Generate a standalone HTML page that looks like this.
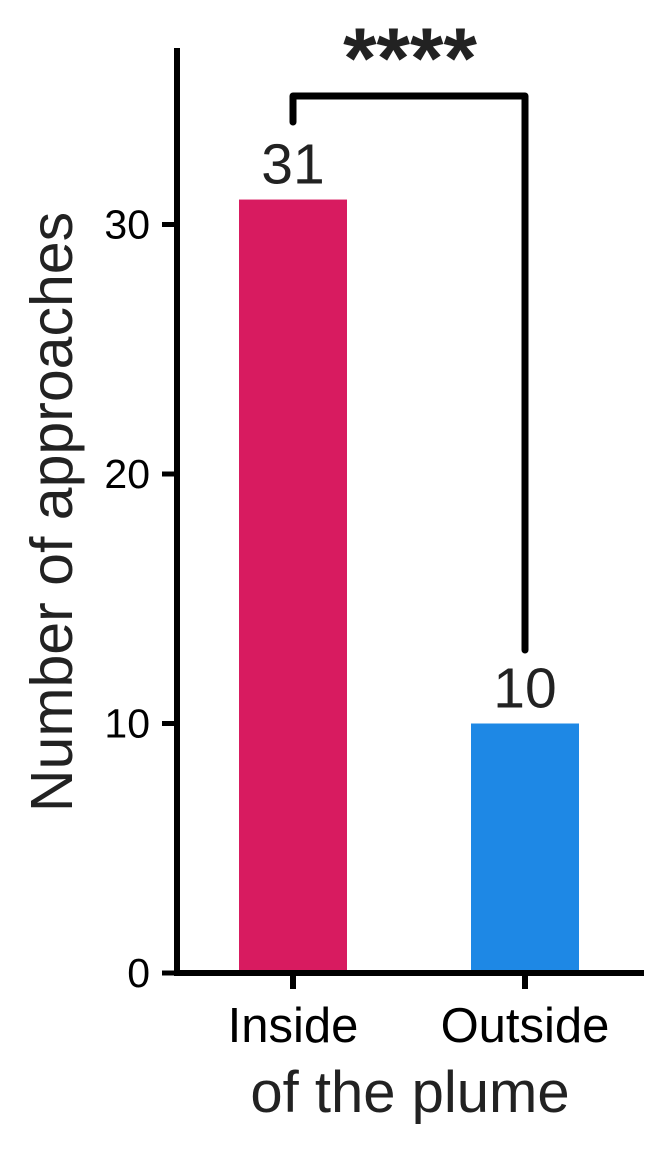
<!DOCTYPE html>
<html><head><meta charset="utf-8"><style>body{margin:0;background:#fff}svg{display:block}text{font-family:"Liberation Sans",sans-serif}</style></head>
<body>
<svg id="c" width="671" height="1152" xmlns="http://www.w3.org/2000/svg"></svg>
<script>
const categories=["Inside","Outside"];
const values=[31,10];
const colors=["#d81b60","#1e88e5"];
const ticks=[0,10,20,30];
const NS="http://www.w3.org/2000/svg";
const svg=document.getElementById('c');
const y0=973, ppu=24.95;
const y=v=>y0-v*ppu;
const xc=[293,525], bw=108;
function mk(t,a,txt,fs){const e=document.createElementNS(NS,t);for(const k in a)e.setAttribute(k,a[k]);if(fs)e.style.fontSize=fs+'px';if(txt!=null)e.textContent=txt;svg.appendChild(e);return e;}
values.forEach((v,i)=>{
 const r=mk('rect',{x:xc[i]-bw/2,y:y(v),width:bw,height:y0-y(v),fill:colors[i]});
 
 
 const t=mk('text',{x:xc[i],y:y(v)-16,'text-anchor':'middle',fill:'#222'},String(v),57);
 
 
 const tk=mk('line',{x1:xc[i],x2:xc[i],y1:y0,y2:y0+16,stroke:'#000','stroke-width':6});
 
 
 const xl=mk('text',{x:xc[i],y:1042,'text-anchor':'middle',fill:'#000'},categories[i],49);
 
 
});
ticks.forEach(v=>{
 const l=mk('line',{x1:162,x2:177,y1:y(v),y2:y(v),stroke:'#000','stroke-width':5});
 
 
 const t=mk('text',{x:150,y:y(v)+14,'text-anchor':'end',fill:'#000'},String(v),41);
 
 
});
const ya=mk('line',{x1:177,x2:177,y1:48,y2:y0+3,stroke:'#000','stroke-width':6});


const xa=mk('line',{x1:174,x2:644,y1:y0,y2:y0,stroke:'#000','stroke-width':6});


const br=mk('path',{d:'M293 122 V96 H525 V650',fill:'none',stroke:'#000','stroke-width':7,'stroke-linecap':'round','stroke-linejoin':'round'});


const st=mk('text',{x:410,y:88,'text-anchor':'middle','font-weight':'bold',fill:'#222'},'****',86);


const yt=mk('text',{x:0,y:0,transform:'translate(72 512) rotate(-90)','text-anchor':'middle',fill:'#222'},'Number of approaches',59);


const xt=mk('text',{x:410,y:1112,'text-anchor':'middle',fill:'#222'},'of the plume',58);


</script>
</body></html>
